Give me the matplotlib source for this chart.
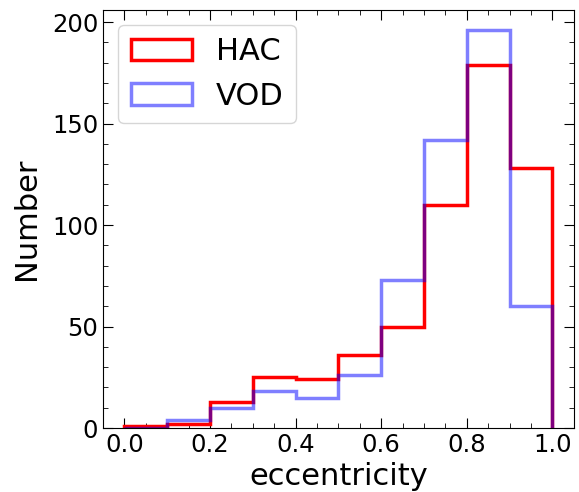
import numpy as np
import matplotlib
matplotlib.use("Agg")
import matplotlib.pyplot as plt
from matplotlib.ticker import MultipleLocator

# histogram counts per eccentricity bin
bin_edges = [0.0, 0.1, 0.2, 0.3, 0.4, 0.5, 0.6, 0.7, 0.8, 0.9, 1.0]
hac_counts = [1, 2, 13, 25, 24, 36, 50, 110, 179, 128]
vod_counts = [0, 4, 10, 18, 15, 26, 73, 142, 196, 60]

edges = np.array(bin_edges)
centers = 0.5 * (edges[:-1] + edges[1:])

fig = plt.figure(figsize=(5.79, 4.92), dpi=100)
ax = fig.add_axes([0.178, 0.13, 0.813, 0.85])

ax.hist(centers, bins=edges, weights=hac_counts, histtype='step',
        color='red', linewidth=2.5, label='HAC')
ax.hist(centers, bins=edges, weights=vod_counts, histtype='step',
        color='blue', alpha=0.5, linewidth=2.5, label='VOD')

ax.set_xlabel('eccentricity', fontsize=22, labelpad=4)
ax.set_ylabel('Number', fontsize=22, labelpad=8)
ax.set_ylim(0, 206)
ax.set_xlim(-0.05, 1.05)

ax.xaxis.set_major_locator(MultipleLocator(0.2))
ax.xaxis.set_minor_locator(MultipleLocator(0.05))
ax.yaxis.set_major_locator(MultipleLocator(50))
ax.yaxis.set_minor_locator(MultipleLocator(10))
ax.tick_params(which='both', direction='in', top=True, right=True)
ax.tick_params(which='major', length=7, labelsize=17.5)
ax.tick_params(which='minor', length=3.5)

ax.legend(loc='upper left', fontsize=22)

fig.savefig('out.png', dpi=100)
